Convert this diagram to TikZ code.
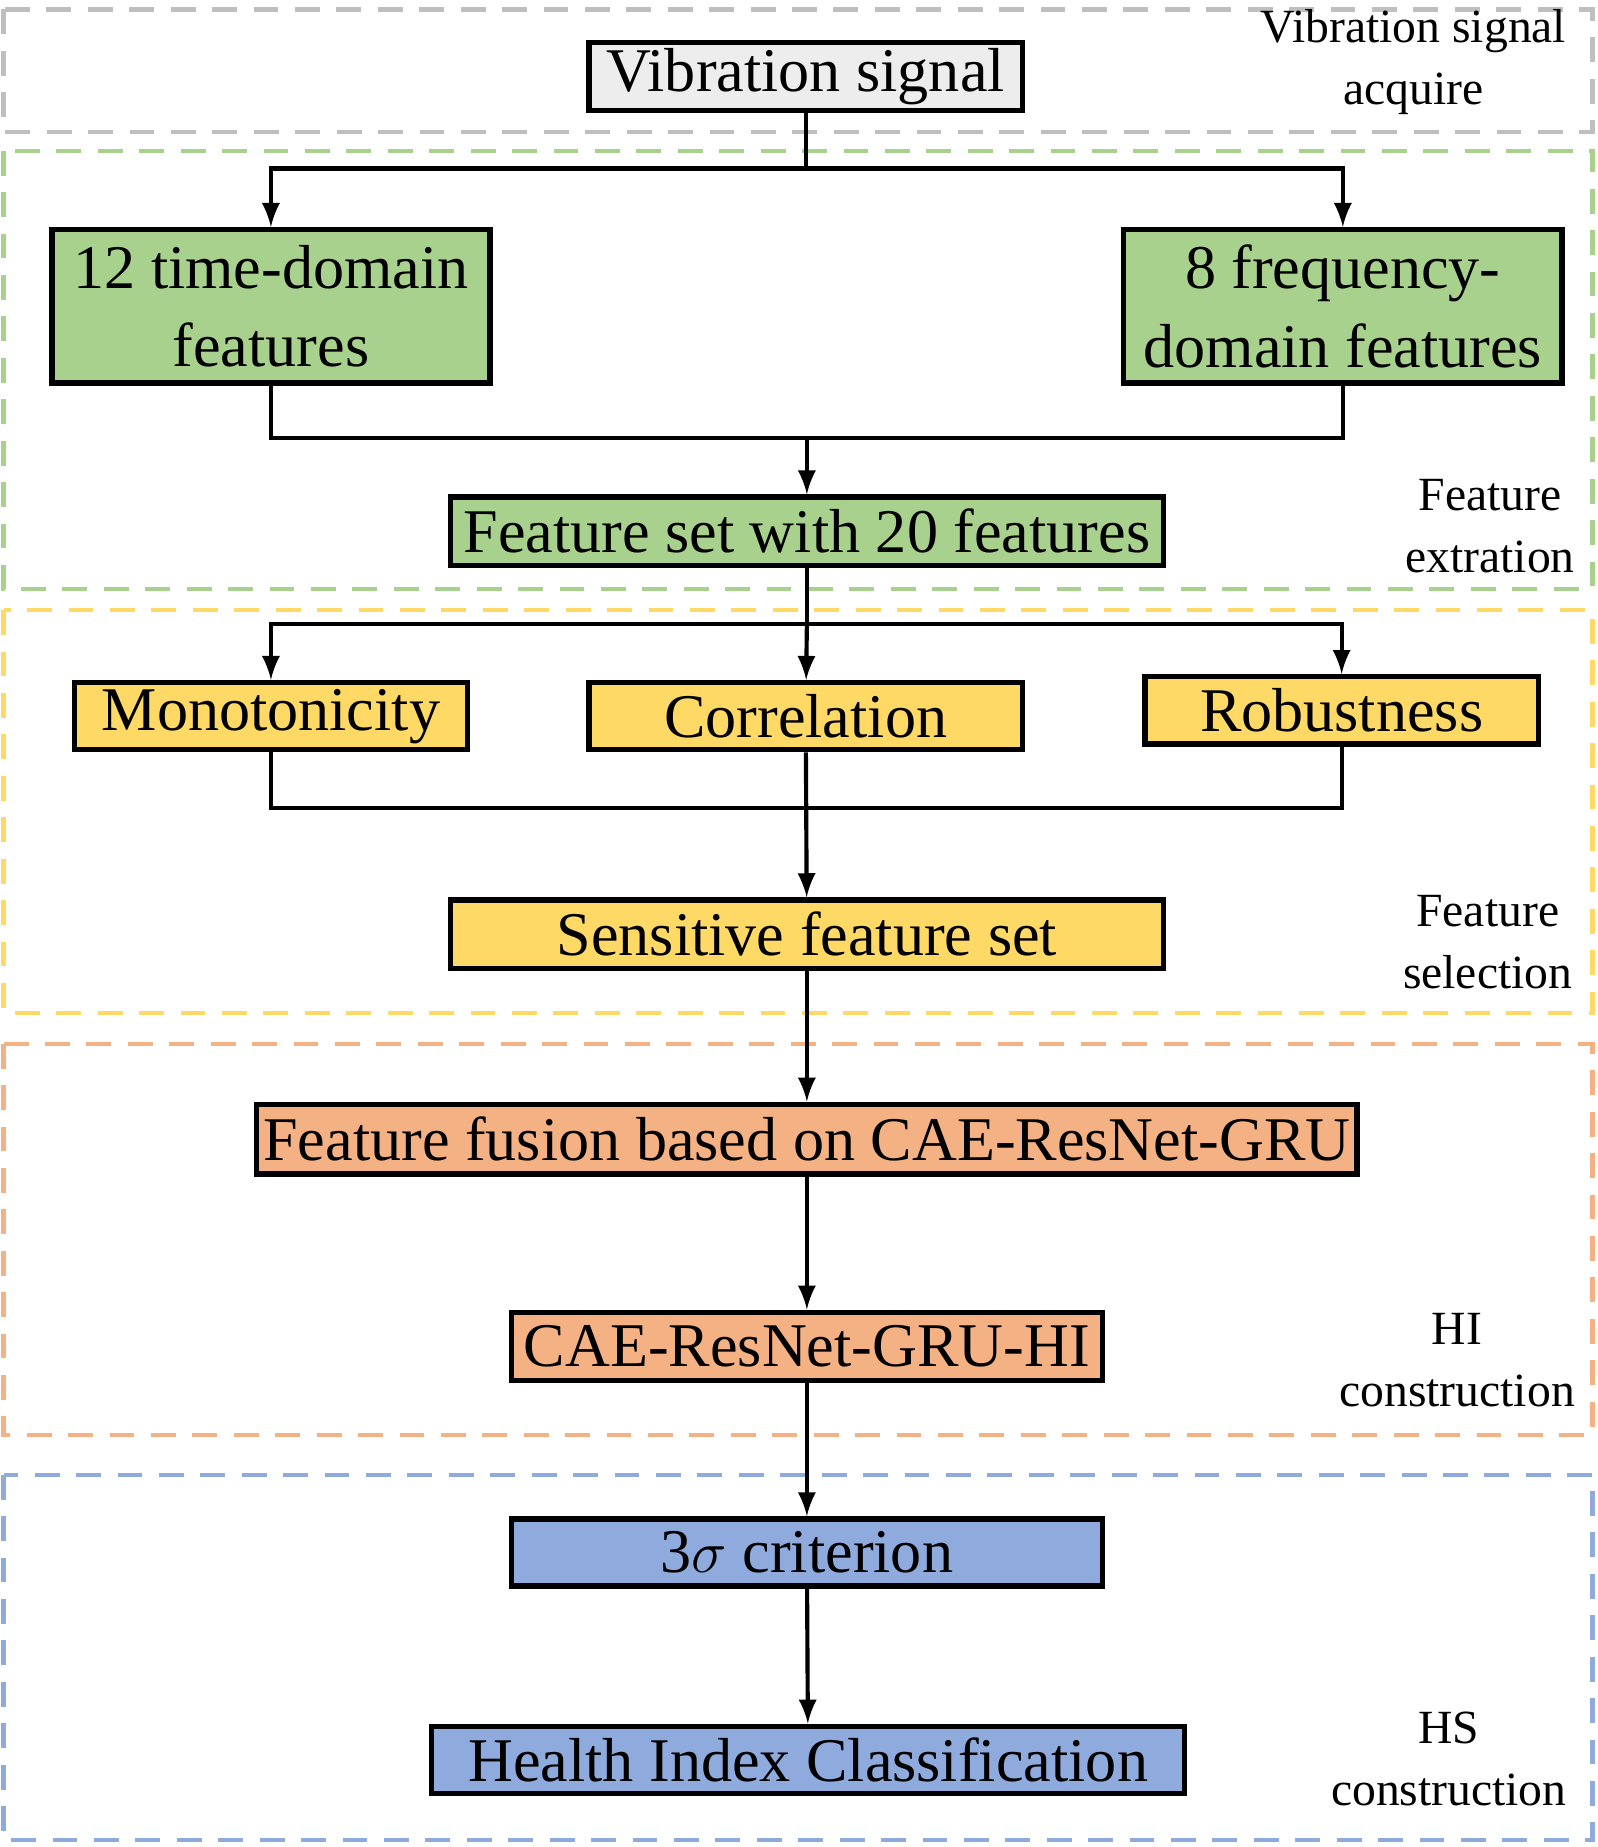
\documentclass[tikz,border=0pt]{standalone}
\usepackage{fontspec}
\setmainfont{Liberation Serif}
\usepackage{amsmath}
\newcommand{\px}{0.01cm}
\definecolor{cgray}{HTML}{EDEDED}
\definecolor{cgreen}{HTML}{A9D18E}
\definecolor{cyellow}{HTML}{FFD966}
\definecolor{corange}{HTML}{F4B183}
\definecolor{cblue}{HTML}{8FAADC}
\begin{document}
\begin{tikzpicture}[x=\px,y=-\px]
\useasboundingbox (0,0) rectangle (1356,1568);
\tikzstyle{box}=[draw,
			line width=1.3pt,
			align=center,
			inner sep=0pt,
			font=\fontsize{15}{19}\selectfont
			]
\tikzstyle{frame}=[dashed,line width=1pt,dash pattern=on 6pt off 4pt]
\tikzstyle{side}=[align=center,font=\fontsize{11.5}{15}\selectfont]
\tikzstyle{arr}=[line width=1pt,-latex]
\tikzstyle{ln}=[line width=1pt]

% stage frames
\draw[frame,gray!50] (3,8) rectangle (1352,112);
\draw[frame,cgreen] (3,128) rectangle (1352,500);
\draw[frame,cyellow] (3,518) rectangle (1352,860);
\draw[frame,corange] (3,886) rectangle (1352,1218);
\draw[frame,cblue] (3,1252) rectangle (1352,1562);

% stage labels
\node[side] (lacq) at (1200,53) {Vibration signal\\acquire};
\node[side] (lext) at (1265,447) {Feature\\extration};
\node[side] (lsel) at (1263,800) {Feature\\selection};
\node[side] (lhi) at (1237,1155) {HI\\construction};
\node[side] (lhs) at (1230,1493) {HS\\construction};

% boxes
\node[box,fill=cgray,minimum width=368*\px,minimum height=58*\px] (vib) at (684,65) {Vibration signal};
\node[box,fill=cgreen,minimum width=372*\px,minimum height=130*\px] (time) at (230,260) {12 time-domain\\features};
\node[box,fill=cgreen,minimum width=372*\px,minimum height=130*\px] (freq) at (1140,260) {8 frequency-\\domain features};
\node[box,fill=cgreen,minimum width=605*\px,minimum height=58*\px] (fset) at (685,451) {Feature set with 20 features};
\node[box,fill=cyellow,minimum width=334*\px,minimum height=57*\px] (mono) at (230,608) {Monotonicity};
\node[box,fill=cyellow,minimum width=368*\px,minimum height=57*\px] (corr) at (684,608) {Correlation};
\node[box,fill=cyellow,minimum width=334*\px,minimum height=57*\px] (rob) at (1139,603) {Robustness};
\node[box,fill=cyellow,minimum width=605*\px,minimum height=58*\px] (sens) at (685,793) {Sensitive feature set};
\node[box,fill=corange,minimum width=934*\px,minimum height=59*\px] (fus) at (685,967) {Feature fusion based on CAE-ResNet-GRU};
\node[box,fill=corange,minimum width=502*\px,minimum height=58*\px] (hi) at (685,1143) {CAE-ResNet-GRU-HI};
\node[box,fill=cblue,minimum width=502*\px,minimum height=57*\px] (sig) at (685,1318) {3$\sigma$ criterion};
\node[box,fill=cblue,minimum width=639*\px,minimum height=57*\px] (hic) at (686,1494) {Health Index Classification};

% connectors
\coordinate (s1) at (684,143);
\coordinate (m1) at (685,372);
\coordinate (s2) at (685,530);
\coordinate (m2) at (685,686);
\draw[ln] (vib) -- (s1);
\draw[arr] (s1) -| (time);
\draw[arr] (s1) -| (freq);
\draw[ln] (time) |- (m1);
\draw[ln] (freq) |- (m1);
\draw[arr] (m1) -- (fset);
\draw[ln] (fset) -- (s2);
\draw[arr] (s2) -| (mono);
\draw[arr] (s2) -- (corr);
\draw[arr] (s2) -| (rob);
\draw[ln] (mono) |- (m2);
\draw[ln] (rob) |- (m2);
\draw[arr] (corr) -- (sens);
\draw[arr] (sens) -- (fus);
\draw[arr] (fus) -- (hi);
\draw[arr] (hi) -- (sig);
\draw[arr] (sig) -- (hic);
\end{tikzpicture}
\end{document}
